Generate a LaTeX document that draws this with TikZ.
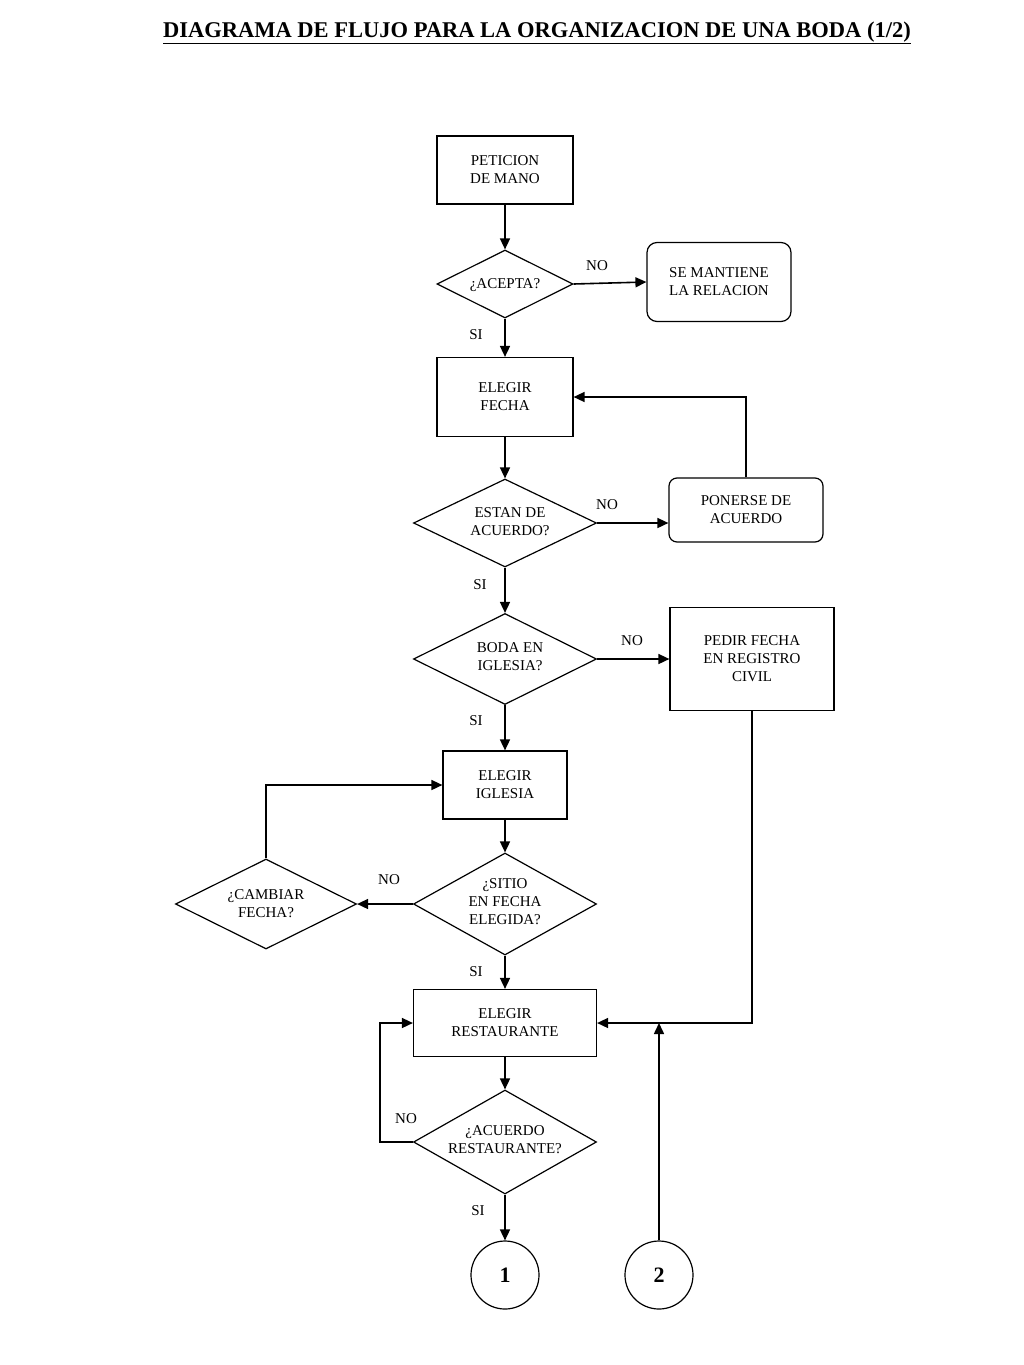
\documentclass[tikz,border=0pt]{standalone}
\usepackage{fontspec}
\setmainfont{Liberation Serif}
\usetikzlibrary{shapes.geometric,arrows.meta}
\begin{document}
\begin{tikzpicture}[x=1pt,y=-1pt,
  every node/.style={font=\fontsize{15}{18}\selectfont,align=center},
  box/.style={draw,line width=1.2pt,inner sep=0pt},
  dia/.style={draw,line width=1.2pt,diamond,inner sep=0pt},
  lab/.style={font=\fontsize{15}{17}\selectfont},
  ar/.style={line width=1.6pt,-{Triangle[length=11pt,width=10pt]}},
  ln/.style={line width=1.6pt}]
\useasboundingbox (0,0) rectangle (1024,1365);
\node[font=\bfseries\fontsize{22.5}{26}\selectfont] (title) at (537,33) {\underline{DIAGRAMA DE FLUJO PARA LA ORGANIZACION DE UNA BODA (1/2)}};
\node[box,minimum width=136pt,minimum height=68pt] (pet) at (505,170) {PETICION\\DE MANO};
\node[dia,minimum width=136pt,minimum height=68pt,aspect=2] (acp) at (505,284) {};
\node at (505,285) {¿ACEPTA?};
\node[box,rounded corners=10pt,minimum width=144pt,minimum height=79pt] (sem) at (719,282) {SE MANTIENE\\LA RELACION};
\node[box,minimum width=136pt,minimum height=79pt] (fec) at (505,397) {ELEGIR\\FECHA};
\node[dia,minimum width=183pt,minimum height=88pt,aspect=2] (est) at (505,523) {};
\node at (510,522) {ESTAN DE\\ACUERDO?};
\node[box,rounded corners=8pt,minimum width=154pt,minimum height=64pt] (pon) at (746,510) {PONERSE DE\\ACUERDO};
\node[dia,minimum width=183pt,minimum height=91pt,aspect=2] (bod) at (505,659) {};
\node at (510,657) {BODA EN\\IGLESIA?};
\node[box,minimum width=164pt,minimum height=103pt] (ped) at (752,659) {PEDIR FECHA\\EN REGISTRO\\CIVIL};
\node[box,minimum width=124pt,minimum height=68pt] (igl) at (505,785) {ELEGIR\\IGLESIA};
\node[dia,minimum width=183pt,minimum height=102pt,aspect=1.8] (sit) at (505,904) {};
\node at (505,902) {¿SITIO\\EN FECHA\\ELEGIDA?};
\node[dia,minimum width=181pt,minimum height=90pt,aspect=2] (cam) at (266,904) {};
\node at (266,904) {¿CAMBIAR\\FECHA?};
\node[box,minimum width=183pt,minimum height=67pt] (res) at (505,1023) {ELEGIR\\RESTAURANTE};
\node[dia,minimum width=183pt,minimum height=104pt,aspect=1.8] (acr) at (505,1142) {};
\node at (505,1140) {¿ACUERDO\\RESTAURANTE?};
\node[draw,circle,line width=1.2pt,minimum size=68pt,font=\bfseries\fontsize{22}{26}\selectfont] (c1) at (505,1275) {1};
\node[draw,circle,line width=1.2pt,minimum size=68pt,font=\bfseries\fontsize{22}{26}\selectfont] (c2) at (659,1275) {2};
\draw[ar] (pet) -- (acp);
\draw[ar] (acp.east) -- (sem.west);
\node[lab] at (597,266) {NO};
\draw[ar] (acp) -- (fec);
\node[lab] at (476,335) {SI};
\draw[ar] (fec) -- (est);
\draw[ar] (est.east) -- (pon.west |- est.east);
\node[lab] at (607,505) {NO};
\draw[ar] (pon.north) |- (fec.east);
\draw[ar] (est) -- (bod);
\node[lab] at (480,585) {SI};
\draw[ar] (bod.east) -- (ped.west |- bod.east);
\node[lab] at (632,641) {NO};
\draw[ar] (bod) -- (igl);
\node[lab] at (476,721) {SI};
\draw[ar] (igl) -- (sit);
\draw[ar] (sit.west) -- (cam.east);
\node[lab] at (389,880) {NO};
\draw[ar] (cam.north) |- (igl.west);
\draw[ar] (sit) -- (res);
\node[lab] at (476,972) {SI};
\draw[ar] (ped.south) |- (res.east);
\draw[ar] (res) -- (acr);
\coordinate (lp) at (380,1142);
\draw[ar] (acr.west) -- (lp) |- (res.west);
\node[lab] at (406,1119) {NO};
\draw[ar] (acr) -- (c1);
\node[lab] at (478,1211) {SI};
\coordinate (j2) at (659,1023);
\draw[ar] (c2) -- (j2);
\end{tikzpicture}
\end{document}
